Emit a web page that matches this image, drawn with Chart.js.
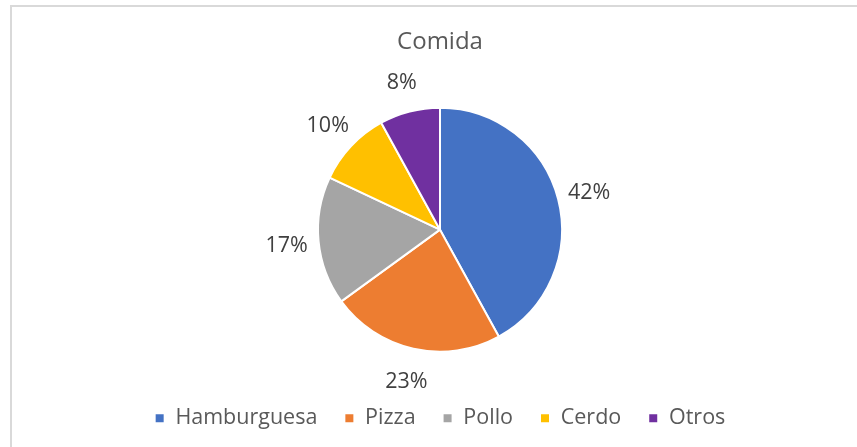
<!DOCTYPE html>
<html>
<head>
<meta charset="utf-8">
<script src="https://cdn.jsdelivr.net/npm/chart.js@4"></script>
<style>
  html, body { margin: 0; padding: 0; background: #fff; }
  #frame { position: absolute; left: 10px; top: 5px; width: 900px; height: 500px; border: 2px solid #d9d9d9; }
  #wrap { position: absolute; left: 0; top: 0; width: 857px; height: 447px; }
</style>
</head>
<body>
<div id="frame"></div>
<div id="wrap"><canvas id="pieChart"></canvas></div>
<script>
// Datos del gráfico de comida
const categorias = ['Hamburguesa', 'Pizza', 'Pollo', 'Cerdo', 'Otros'];
const valores = [42, 23, 17, 10, 8];
const colores = ['#4472C4', '#ED7D31', '#A5A5A5', '#FFC000', '#7030A0'];

const fuente = "'Open Sans', 'Noto Sans', sans-serif";

// Etiquetas de porcentaje fuera del pastel
const etiquetasFuera = {
    id: 'etiquetasFuera',
    afterDatasetsDraw(chart) {
        const ctx = chart.ctx;
        const meta = chart.getDatasetMeta(0);
        const total = valores.reduce((a, b) => a + b, 0);
        ctx.save();
        ctx.font = '21.5px ' + fuente;
        ctx.fillStyle = '#404040';
        ctx.textAlign = 'center';
        ctx.textBaseline = 'middle';
        meta.data.forEach((arc, i) => {
            const p = arc.getProps(['x', 'y', 'startAngle', 'endAngle', 'outerRadius']);
            const ang = (p.startAngle + p.endAngle) / 2;
            const d = p.outerRadius + 32;
            const txt = Math.round(valores[i] / total * 100) + '%';
            ctx.fillText(txt, p.x + Math.cos(ang) * d, p.y + Math.sin(ang) * d + 2);
        });
        ctx.restore();
    }
};

const pieChart = new Chart(document.getElementById('pieChart').getContext('2d'), {
    type: 'pie',
    data: {
        labels: categorias,
        datasets: [{
            data: valores,
            backgroundColor: colores,
            borderColor: '#ffffff',
            borderWidth: 2
        }]
    },
    options: {
        responsive: true,
        maintainAspectRatio: false,
        animation: false,
        radius: 122,
        layout: { padding: { left: 23, bottom: 8 } },
        plugins: {
            title: {
                display: true,
                text: 'Comida',
                color: '#595959',
                font: { family: fuente, size: 24, weight: 'normal' },
                padding: { top: 28, bottom: 22 }
            },
            legend: {
                position: 'bottom',
                labels: {
                    color: '#595959',
                    font: { family: fuente, size: 21.5 },
                    boxWidth: 10,
                    boxHeight: 10,
                    padding: 27
                }
            },
            tooltip: { enabled: false }
        }
    },
    plugins: [etiquetasFuera]
});
</script>
</body>
</html>
